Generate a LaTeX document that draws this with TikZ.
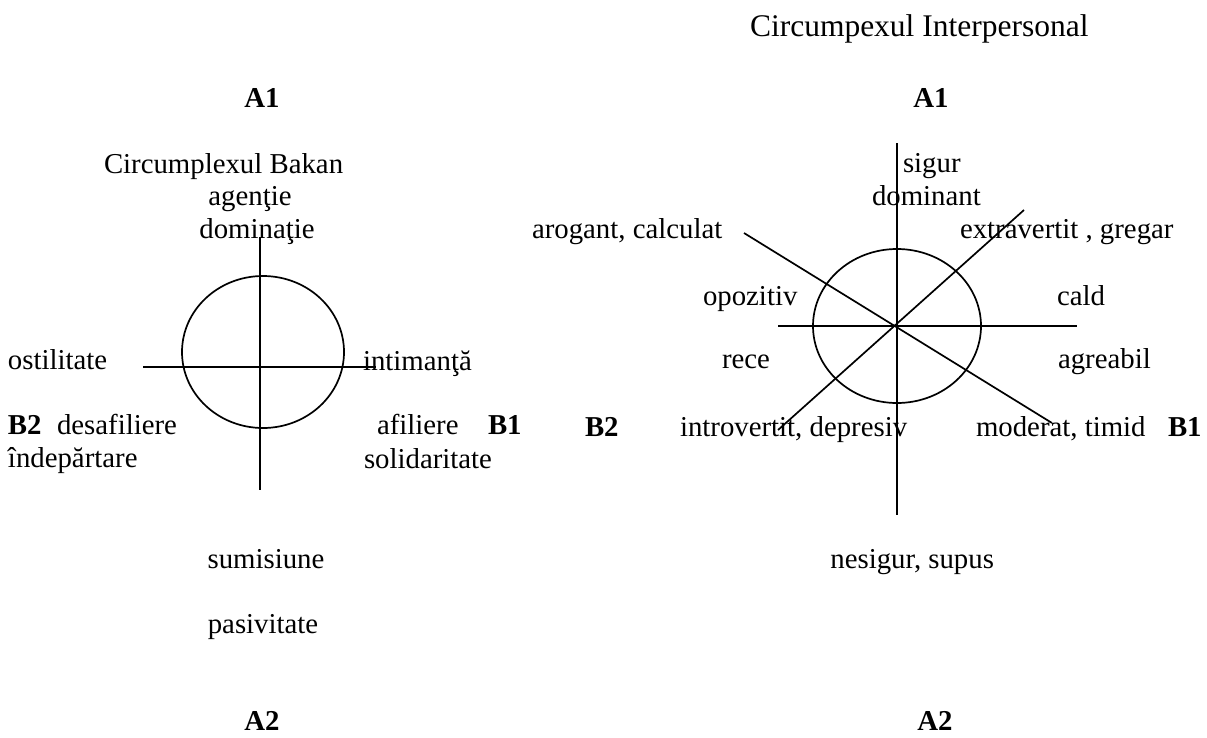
\documentclass[tikz,border=0pt]{standalone}
\usepackage{fontspec}
\setmainfont{Liberation Serif}
\begin{document}
\begin{tikzpicture}[x=1pt,y=-1pt,
  txt/.style={inner sep=0pt,outer sep=0pt,font=\fontsize{28.8}{34}\selectfont,text=black},
  bld/.style={txt,font=\fontsize{28.8}{34}\selectfont\bfseries},
  ln/.style={draw=black,line width=1.7pt}]
\useasboundingbox (0,0) rectangle (1207,737);
% ---------- left diagram ----------
\node[bld,anchor=base] (lA1) at (262,107) {A1};
\node[txt,anchor=base west] (bakan) at (104,173) {Circumplexul Bakan};
\node[txt,anchor=base] (agentie) at (250,205) {agenţie};
\node[txt,anchor=base] (dominatie) at (257,238) {dominaţie};
\coordinate (lc) at (263,352);
\coordinate (lvt) at (260,237);
\coordinate (lvb) at (260,490);
\coordinate (lhl) at (143,367);
\coordinate (lhr) at (376,367);
\draw[ln] (lc) ellipse [x radius=81,y radius=76];
\draw[ln] (lvt) -- (lvb);
\draw[ln] (lhl) -- (lhr);
\node[txt,anchor=base west] (ostil) at (8,369) {ostilitate};
\node[txt,anchor=base west] (intim) at (363,370) {intimanţă};
\node[bld,anchor=base west] (lB2) at (8,434) {B2};
\node[txt,anchor=base west] (desaf) at (57,434) {desafiliere};
\node[txt,anchor=base west] (indep) at (8,467) {îndepărtare};
\node[txt,anchor=base west] (afil) at (377,434) {afiliere};
\node[bld,anchor=base west] (lB1) at (488,434) {B1};
\node[txt,anchor=base west] (solid) at (364,468) {solidaritate};
\node[txt,anchor=base] (sumis) at (266,568) {sumisiune};
\node[txt,anchor=base] (pasiv) at (263,633) {pasivitate};
\node[bld,anchor=base] (lA2) at (262,730) {A2};
% ---------- right diagram ----------
\node[txt,anchor=base west,font=\fontsize{31.5}{36}\selectfont] (title) at (750,36) {Circumpexul Interpersonal};
\node[bld,anchor=base] (rA1) at (931,107) {A1};
\coordinate (rc) at (897,326);
\coordinate (rvt) at (897,143);
\coordinate (rvb) at (897,515);
\coordinate (rhl) at (778,326);
\coordinate (rhr) at (1077,326);
\coordinate (dnw) at (744,233);
\coordinate (dse) at (1052,423);
\coordinate (dsw) at (778,430);
\coordinate (dne) at (1024,210);
\draw[ln] (rc) ellipse [x radius=84,y radius=77];
\draw[ln] (rvt) -- (rvb);
\draw[ln] (rhl) -- (rhr);
\draw[ln] (dnw) -- (dse);
\draw[ln] (dsw) -- (dne);
\node[txt,anchor=base west] (sigur) at (903,172) {sigur};
\node[txt,anchor=base west] (domin) at (872,205) {dominant};
\node[txt,anchor=base west] (extra) at (960,238) {extravertit , gregar};
\node[txt,anchor=base west] (arog) at (532,238) {arogant, calculat};
\node[txt,anchor=base west] (opoz) at (703,305) {opozitiv};
\node[txt,anchor=base west] (cald) at (1057,305) {cald};
\node[txt,anchor=base west] (rece) at (722,368) {rece};
\node[txt,anchor=base west] (agre) at (1058,368) {agreabil};
\node[bld,anchor=base west] (rB2) at (585,436) {B2};
\node[txt,anchor=base west] (intro) at (680,436) {introvertit, depresiv};
\node[txt,anchor=base west] (moder) at (976,436) {moderat, timid};
\node[bld,anchor=base west] (rB1) at (1168,436) {B1};
\node[txt,anchor=base east] (nesig) at (994,568) {nesigur, supus};
\node[bld,anchor=base] (rA2) at (935,730) {A2};
\end{tikzpicture}
\end{document}
